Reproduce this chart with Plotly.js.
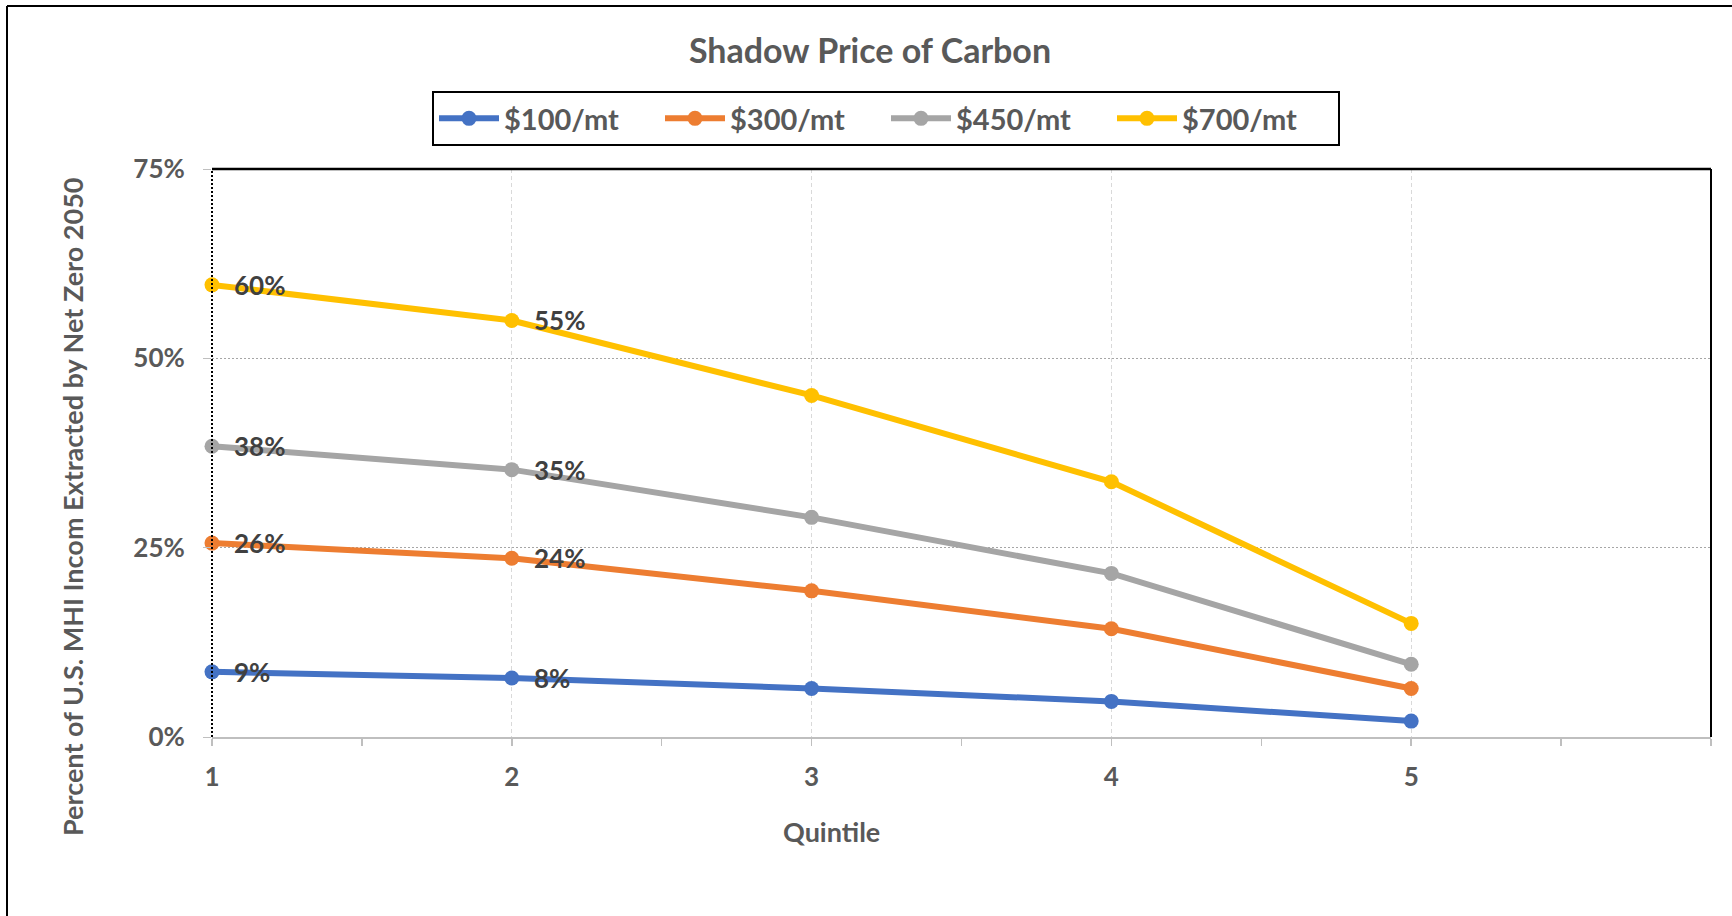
<!DOCTYPE html>
<html>
<head>
<meta charset="utf-8">
<script src="https://cdn.plot.ly/plotly-3.0.1.min.js"></script>
<style>
  html, body { margin: 0; padding: 0; background: #ffffff; }
  #chart { width: 1732px; height: 916px; }
</style>
</head>
<body>
<div id="chart"></div>
<script>
// Quintiles on the horizontal axis
const quintiles = [1, 2, 3, 4, 5];

// Share of MHI income extracted, per carbon price scenario
const seriesNames = ['$100/mt', '$300/mt', '$450/mt', '$700/mt'];
const price100 = [0.086, 0.078, 0.064, 0.047, 0.021];
const price300 = [0.256, 0.236, 0.193, 0.143, 0.064];
const price450 = [0.384, 0.353, 0.290, 0.216, 0.096];
const price700 = [0.597, 0.550, 0.451, 0.337, 0.150];

const yTickVals = [0, 0.25, 0.5, 0.75];
const xTickVals = [1, 2, 3, 4, 5];

const colors = ['#4472C4', '#ED7D31', '#A5A5A5', '#FFC000'];
const seriesValues = [price100, price300, price450, price700];

const FONT = 'Lato, "Open Sans", "Noto Sans", sans-serif';
const GREY_TEXT = '#595959';

// Plot-area geometry in pixels, used to place the frame and free-floating titles
const W = 1732, H = 916;
const M = { l: 212, r: 21, t: 169, b: 179 };
const plotW = W - M.l - M.r;
const plotH = H - M.t - M.b;
const px2x = px => (px - M.l) / plotW;
const py2y = py => (H - M.b - py) / plotH;

const traces = seriesValues.map((vals, i) => ({
  type: 'scatter',
  mode: 'lines+markers',
  name: seriesNames[i],
  x: quintiles,
  y: vals,
  line: { color: colors[i], width: 6 },
  marker: { color: colors[i], size: 15 },
  cliponaxis: false
}));

// Value labels on the first two quintiles of each series
const labelAnnotations = [];
seriesValues.forEach(vals => {
  for (let k = 0; k < 2; k++) {
    labelAnnotations.push({
      xref: 'x', yref: 'y',
      x: quintiles[k], y: vals[k],
      text: Math.round(vals[k] * 100) + '%',
      showarrow: false,
      xanchor: 'left', yanchor: 'middle',
      xshift: 20,
      font: { family: FONT, size: 26, color: '#404040', weight: 'bold' }
    });
  }
});

const titleAnnotations = [
  {
    xref: 'paper', yref: 'paper',
    x: px2x(72), y: py2y(507),
    text: 'Percent of U.S. MHI Incom Extracted by Net Zero 2050',
    textangle: -90,
    showarrow: false,
    xanchor: 'center', yanchor: 'middle',
    font: { family: FONT, size: 27, color: GREY_TEXT, weight: 'bold' }
  },
  {
    xref: 'paper', yref: 'paper',
    x: px2x(831), y: py2y(831),
    text: 'Quintile',
    showarrow: false,
    xanchor: 'center', yanchor: 'middle',
    font: { family: FONT, size: 27, color: GREY_TEXT, weight: 'bold' }
  }
];

const shapes = [
  // dotted value axis at the first quintile
  { type: 'line', xref: 'paper', yref: 'paper', x0: 0, x1: 0, y0: 0, y1: 1,
    line: { color: '#000000', width: 2, dash: '2px,2px' } },
  // plot frame: top and right edges
  { type: 'line', xref: 'paper', yref: 'paper', x0: 0, x1: 1, y0: 1, y1: 1,
    line: { color: '#000000', width: 2.5 } },
  { type: 'line', xref: 'paper', yref: 'paper', x0: 1, x1: 1, y0: 0, y1: 1,
    line: { color: '#000000', width: 2 } },
  // outer chart frame
  { type: 'line', xref: 'paper', yref: 'paper', x0: px2x(7), x1: px2x(7), y0: py2y(H + 5), y1: py2y(6),
    line: { color: '#000000', width: 2 } },
  { type: 'line', xref: 'paper', yref: 'paper', x0: px2x(7), x1: px2x(W + 5), y0: py2y(6), y1: py2y(6),
    line: { color: '#000000', width: 2 } }
];

const LEGEND_ITEM_W = 60;
const layout = {
  width: W, height: H,
  margin: M,
  paper_bgcolor: '#ffffff',
  plot_bgcolor: '#ffffff',
  font: { family: FONT, color: GREY_TEXT },
  title: {
    text: 'Shadow Price of Carbon',
    xref: 'container', yref: 'container',
    x: 870 / W, y: 1 - 51 / H,
    xanchor: 'center', yanchor: 'middle',
    font: { family: FONT, size: 34, color: GREY_TEXT, weight: 'bold' }
  },
  showlegend: true,
  legend: {
    orientation: 'h',
    xref: 'container', yref: 'container',
    x: 886 / W, y: 1 - 91 / H,
    xanchor: 'center', yanchor: 'top',
    bgcolor: '#ffffff',
    bordercolor: '#000000', borderwidth: 2,
    font: { family: FONT, size: 29, color: GREY_TEXT, weight: 'bold' },
    itemwidth: LEGEND_ITEM_W,
    entrywidth: 225 - 4 - (LEGEND_ITEM_W + 10),
    itemclick: false
  },
  xaxis: {
    range: [1, 6],
    tickmode: 'array',
    tickvals: xTickVals,
    ticktext: xTickVals.map(String),
    ticks: 'outside', ticklen: 7, tickwidth: 1.5, tickcolor: '#bfbfbf',
    minor: { tickmode: 'linear', tick0: 1, dtick: 0.5, ticks: 'outside', ticklen: 7, tickwidth: 1.5, tickcolor: '#bfbfbf', showgrid: false },
    showgrid: true, gridcolor: '#d9d9d9', gridwidth: 1, griddash: '4px,3px',
    showline: true, linecolor: '#bfbfbf', linewidth: 2,
    zeroline: false,
    tickfont: { family: FONT, size: 26, color: GREY_TEXT, weight: 'bold' },
    ticklabelstandoff: 9,
    fixedrange: true
  },
  yaxis: {
    range: [0, 0.75],
    tickmode: 'array',
    tickvals: yTickVals,
    tickformat: '.0%',
    ticks: 'outside', ticklen: 8, tickwidth: 1, tickcolor: '#bfbfbf',
    showgrid: true, gridcolor: '#a6a6a6', gridwidth: 1, griddash: '2px,2px',
    showline: false, zeroline: false,
    tickfont: { family: FONT, size: 26, color: GREY_TEXT, weight: 'bold' },
    ticklabelstandoff: 13,
    fixedrange: true
  },
  shapes: shapes,
  annotations: labelAnnotations.concat(titleAnnotations)
};

Plotly.newPlot('chart', traces, layout, { displayModeBar: false, staticPlot: true });
</script>
</body>
</html>
